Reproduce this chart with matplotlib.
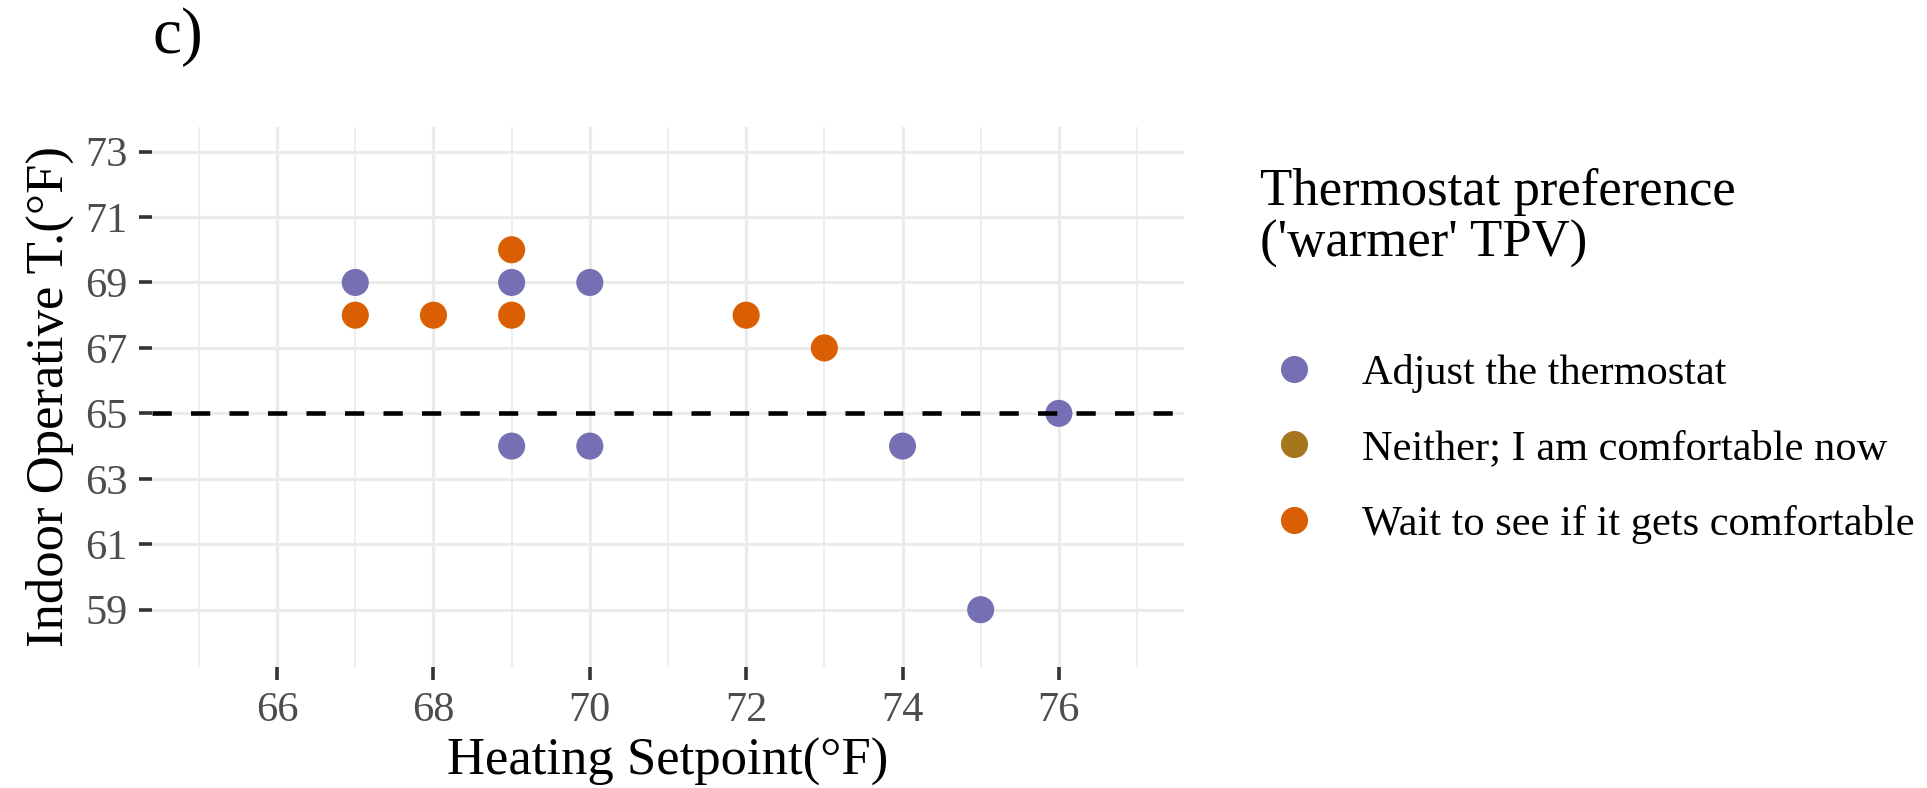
import matplotlib.pyplot as plt
from matplotlib.lines import Line2D

plt.rcParams["font.family"] = ["Liberation Serif", "DejaVu Serif"]

# legend categories and Dark2-style colours
categories = ["Adjust the thermostat", "Neither; I am comfortable now",
              "Wait to see if it gets comfortable"]
colors = ["#7570B3", "#A6761D", "#D95F02"]

# points: heating setpoint (x) vs indoor operative temperature (y)
adjust_setpoint = [67, 69, 70, 69, 70, 74, 75, 76]
adjust_temp = [69, 69, 69, 64, 64, 64, 59, 65]
neither_setpoint = []
neither_temp = []
wait_setpoint = [67, 68, 69, 69, 72, 73]
wait_temp = [68, 68, 68, 70, 68, 67]

threshold = 65
x_ticks = [66, 68, 70, 72, 74, 76]
x_minor = [65, 67, 69, 71, 73, 75, 77]
y_ticks = [59, 61, 63, 65, 67, 69, 71, 73]

TITLE_SIZE = 38
TEXT_SIZE = 30.5

fig = plt.figure(figsize=(19.27, 7.88), dpi=100)
ax = fig.add_axes([0.0789, 0.1536, 0.5355, 0.6852])

series = [(adjust_setpoint, adjust_temp), (neither_setpoint, neither_temp),
          (wait_setpoint, wait_temp)]
for (xs, ys), label, color in zip(series, categories, colors):
    ax.scatter(xs, ys, s=380, color=color, edgecolor="none", label=label, zorder=3)

ax.axhline(threshold, color="black", linewidth=3.3, dashes=(4.2, 4.2), zorder=4)

ax.set_xlim(64.4, 77.6)
ax.set_ylim(57.25, 73.75)
ax.set_xticks(x_ticks)
ax.set_xticks(x_minor, minor=True)
ax.set_yticks(y_ticks)
for side in ax.spines.values():
    side.set_visible(False)
ax.grid(which="major", color="#EBEBEB", linewidth=2.3, zorder=0)
ax.grid(which="minor", axis="x", color="#EBEBEB", linewidth=1.2, zorder=0)
ax.set_axisbelow(True)
ax.tick_params(which="major", length=9.5, width=2.6, color="#333333",
               labelsize=TEXT_SIZE, labelcolor="#4D4D4D", pad=8)
ax.tick_params(which="minor", length=0)

ax.set_xlabel("Heating Setpoint(°F)", fontsize=TITLE_SIZE, labelpad=6)
ax.set_ylabel("Indoor Operative T.(°F)", fontsize=TITLE_SIZE, labelpad=8)

fig.text(0.079, 0.9327, "c)", fontsize=47, ha="left", va="baseline")

handles = [Line2D([], [], marker="o", linestyle="none", markersize=19.5,
                  markerfacecolor=c, markeredgecolor="none") for c in colors]
leg = fig.legend(handles, categories, loc="upper left", bbox_to_anchor=(0.654, 0.787),
                 title="Thermostat preference\n('warmer' TPV)", title_fontsize=TITLE_SIZE,
                 fontsize=TEXT_SIZE, frameon=False, alignment="left", labelspacing=0.86,
                 handlelength=1.6, handletextpad=0.8, borderpad=0, borderaxespad=0)
leg.get_title().set_linespacing(1.1)
leg._legend_box.sep = 62

fig.savefig("out.png", dpi=100)
